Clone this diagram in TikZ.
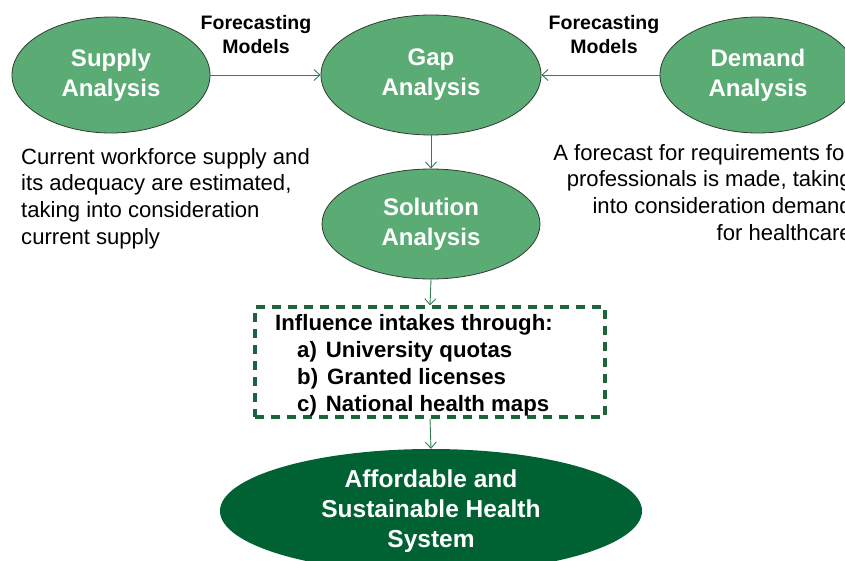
\documentclass[tikz,border=0pt]{standalone}
\usepackage{fontspec}
\setmainfont{Liberation Sans}
\usetikzlibrary{shapes.geometric,arrows.meta}
\definecolor{lightgreen}{RGB}{90,172,116}
\definecolor{darkgreen}{RGB}{0,98,51}
\definecolor{boxgreen}{RGB}{28,100,60}
\definecolor{arrowgreen}{RGB}{50,128,80}
\definecolor{outline}{RGB}{50,60,50}
\tikzset{
  x=1pt,y=-1pt,
  oval/.style={ellipse,fill=lightgreen,draw=outline,line width=0.8pt,inner sep=0pt,
    text=white,align=center,font=\bfseries\fontsize{24}{30}\selectfont},
  bigoval/.style={ellipse,fill=darkgreen,inner sep=0pt,
    text=white,align=center,font=\bfseries\fontsize{24.5}{30}\selectfont},
  lbl/.style={align=center,font=\bfseries\fontsize{19.5}{24}\selectfont,inner sep=0pt},
  desc/.style={font=\fontsize{22.1}{26.7}\selectfont,inner sep=0pt},
  dashbox/.style={draw=boxgreen,line width=3.2pt,dash pattern=on 9pt off 7pt,inner sep=0pt},
  conn/.style={draw=arrowgreen,line width=0.9pt,-{Straight Barb[length=6pt,width=11pt]}}
}
\begin{document}
\begin{tikzpicture}
\clip (0,0) rectangle (845,560);
\fill[white] (0,0) rectangle (845,560);
\node[oval,minimum width=198,minimum height=116] (supply) at (111,75) {Supply\\Analysis};
\node[oval,minimum width=220,minimum height=120] (gap) at (431,75) {Gap\\Analysis};
\node[oval,minimum width=196,minimum height=116] (demand) at (758,75) {Demand\\Analysis};
\node[oval,minimum width=218,minimum height=110] (solution) at (431,224) {Solution\\Analysis};
\node[dashbox,minimum width=350,minimum height=110] (box) at (430,362) {};
\node[anchor=north west,align=left,font=\bfseries\fontsize{22.2}{27}\selectfont,inner sep=0pt] (boxtext) at (275,314)
  {Influence intakes through:\\
   \hspace*{22pt}a)\hspace{9pt}University quotas\\
   \hspace*{22pt}b)\hspace{9pt}Granted licenses\\
   \hspace*{22pt}c)\hspace{9pt}National health maps};
\node[bigoval,minimum width=422,minimum height=124] (final) at (431,511) {Affordable and\\Sustainable Health\\System};
\node[lbl] (fm1) at (256,35) {Forecasting\\Models};
\node[lbl] (fm2) at (604,35) {Forecasting\\Models};
\node[desc,anchor=north west,align=left] (sdesc) at (21,148)
  {Current workforce supply and\\its adequacy are estimated,\\taking into consideration\\current supply};
\node[desc,anchor=north east,align=right] (ddesc) at (852,144)
  {A forecast for requirements for\\professionals is made, taking\\into consideration demand\\for healthcare};
\draw[conn] (supply.east) -- (gap.west);
\draw[conn] (demand.west) -- (gap.east);
\draw[conn] (gap.south) -- (solution.north);
\draw[conn] (solution.south) -- (box.north);
\draw[conn] (box.south) -- (final.north);
\end{tikzpicture}
\end{document}
